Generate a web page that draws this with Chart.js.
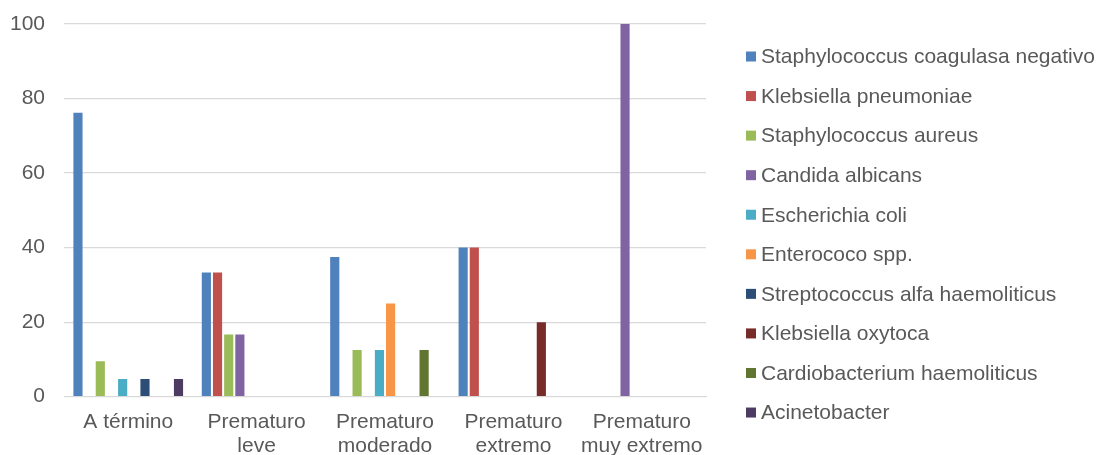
<!DOCTYPE html>
<html>
<head>
<meta charset="utf-8">
<script src="https://cdn.jsdelivr.net/npm/chart.js@4"></script>
<style>
  body { margin: 0; background: #fff; }
  #box { width: 1100px; height: 455px; }
</style>
</head>
<body>
<div id="box"><canvas id="grafico"></canvas></div>
<script>
const categorias = ['A término', ['Prematuro', 'leve'], ['Prematuro', 'moderado'], ['Prematuro', 'extremo'], ['Prematuro', 'muy extremo']]
const yTicks = [0, 20, 40, 60, 80, 100]

const nombres = [
  'Staphylococcus coagulasa negativo',
  'Klebsiella pneumoniae',
  'Staphylococcus aureus',
  'Candida albicans',
  'Escherichia coli',
  'Enterococo spp.',
  'Streptococcus alfa haemoliticus',
  'Klebsiella oxytoca',
  'Cardiobacterium haemoliticus',
  'Acinetobacter',
]

const staphCoagNeg = [76.19, 33.33, 37.5, 40, 0]
const klebPneumoniae = [0, 33.33, 0, 40, 0]
const staphAureus = [9.52, 16.67, 12.5, 0, 0]
const candida = [0, 16.67, 0, 0, 100]
const eColi = [4.76, 0, 12.5, 0, 0]
const enterococo = [0, 0, 25, 0, 0]
const streptoAlfa = [4.76, 0, 0, 0, 0]
const klebOxytoca = [0, 0, 0, 20, 0]
const cardiobacterium = [0, 0, 12.5, 0, 0]
const acinetobacter = [4.76, 0, 0, 0, 0]

const series = [staphCoagNeg, klebPneumoniae, staphAureus, candida, eColi, enterococo, streptoAlfa, klebOxytoca, cardiobacterium, acinetobacter]
const colores = ['#4F81BD', '#C0504D', '#9BBB59', '#8064A2', '#4BACC6', '#F79646', '#2C4D75', '#772C2A', '#5F7530', '#4D3B62']

const gris = '#595959'

// leyenda a la derecha, dibujada en el canvas
const leyenda = {
  id: 'leyenda',
  afterDraw(chart) {
    const c = chart.ctx
    c.save()
    c.font = '21px "Liberation Sans", Arial, sans-serif'
    c.textBaseline = 'middle'
    c.textAlign = 'left'
    chart.data.datasets.forEach((ds, i) => {
      const y = 56.5 + i * 39.56
      c.fillStyle = ds.backgroundColor
      c.fillRect(746, y - 5, 10, 10)
      c.fillStyle = gris
      c.fillText(ds.label, 761, y + 1)
    })
    c.restore()
  }
}

const ctx = document.querySelector('#grafico').getContext('2d')

const myChart = new Chart(ctx, {
  type: 'bar',
  data: {
    labels: categorias,
    datasets: series.map((valores, i) => ({
      label: nombres[i],
      data: valores,
      backgroundColor: colores[i],
      borderWidth: 0,
      categoryPercentage: 0.87,
      barPercentage: 0.82,
    }))
  },
  options: {
    responsive: true,
    maintainAspectRatio: false,
    animation: false,
    layout: {
      padding: { top: 24, left: -9, right: 394, bottom: -16 }
    },
    plugins: {
      legend: { display: false },
      tooltip: { enabled: false },
    },
    scales: {
      x: {
        grid: { display: false, drawTicks: false },
        border: { color: '#d9d9d9', width: 1 },
        ticks: {
          color: gris,
          padding: 13,
          maxRotation: 0,
          font: { family: '"Liberation Sans", Arial, sans-serif', size: 21, lineHeight: 1.15 },
        }
      },
      y: {
        min: 0,
        max: 100,
        afterBuildTicks: axis => { axis.ticks = yTicks.map(v => ({ value: v })) },
        grid: { color: '#d9d9d9', lineWidth: 1.3, drawTicks: false },
        border: { display: false },
        ticks: {
          color: gris,
          padding: 19,
          font: { family: '"Liberation Sans", Arial, sans-serif', size: 21, lineHeight: 0.4 },
        }
      }
    }
  },
  plugins: [leyenda]
});
</script>
</body>
</html>
